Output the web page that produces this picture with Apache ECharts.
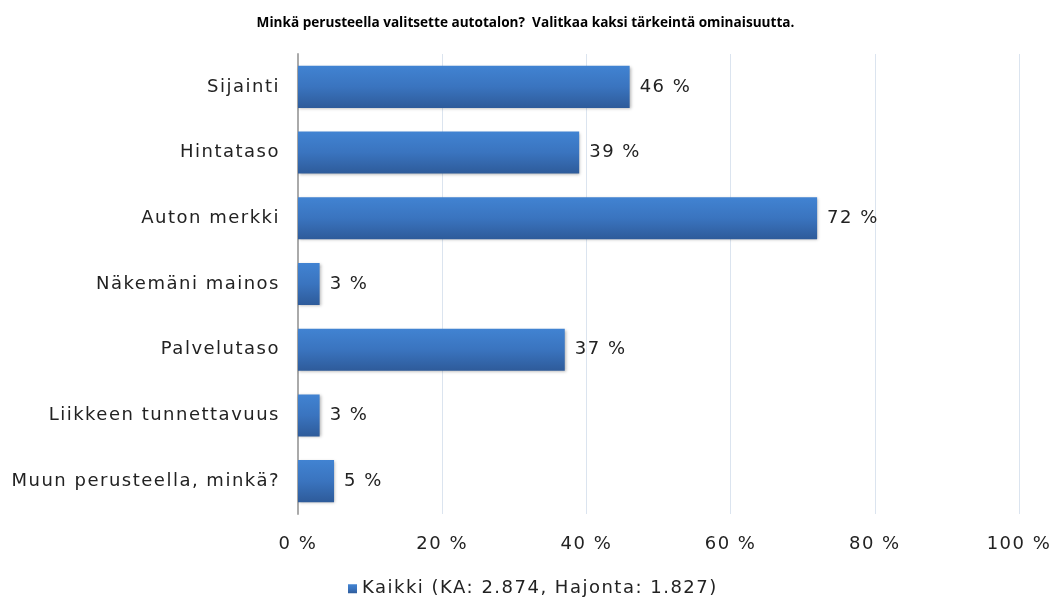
<!DOCTYPE html>
<html>
<head>
<meta charset="utf-8">
<script src="https://cdn.jsdelivr.net/npm/echarts@6/dist/echarts.min.js"></script>
<style>
  html, body { margin: 0; padding: 0; background: #fff; }
  #chart { width: 1051px; height: 598px; }
</style>
</head>
<body>
<div id="chart"></div>
<script>
var categories = ['Sijainti', 'Hintataso', 'Auton merkki', 'Näkemäni mainos', 'Palvelutaso', 'Liikkeen tunnettavuus', 'Muun perusteella, minkä?'];
var values = [46, 39, 72, 3, 37, 3, 5];
var seriesName = 'Kaikki (KA: 2.874, Hajonta: 1.827)';

// the original text is drawn a bit spaced out; canvas can do that through letterSpacing
var fontDesc = Object.getOwnPropertyDescriptor(CanvasRenderingContext2D.prototype, 'font');
Object.defineProperty(CanvasRenderingContext2D.prototype, 'font', {
    get: function () { return fontDesc.get.call(this); },
    set: function (v) {
        fontDesc.set.call(this, v);
        if ('letterSpacing' in this) {
            this.letterSpacing = /DejaVu/.test(v) ? '1.5px' : '0px';
        }
    },
    configurable: true
});

var myChart = echarts.init(document.getElementById('chart'));

var option = {
    backgroundColor: '#fff',
    animation: false,
    title: {
        text: 'Minkä perusteella valitsette autotalon?  Valitkaa kaksi tärkeintä ominaisuutta.',
        left: 'center',
        top: 11,
        textStyle: {
            fontFamily: 'Open Sans',
            fontWeight: 'bold',
            fontSize: 13.6,
            color: '#000'
        }
    },
    legend: {
        top: 574,
        left: 343,
        itemWidth: 9,
        itemHeight: 9,
        itemGap: 4,
        icon: 'rect',
        textStyle: { fontFamily: 'DejaVu Sans', fontSize: 18, color: '#222' },
        data: [seriesName]
    },
    grid: { left: 298, right: 32, top: 54, bottom: 84, outerBoundsMode: 'none', containLabel: false },
    xAxis: {
        type: 'value',
        min: 0,
        max: 100,
        interval: 20,
        axisLine: { show: false },
        axisTick: { show: false },
        axisLabel: {
            formatter: '{value} %',
            margin: 21,
            fontFamily: 'DejaVu Sans',
            fontSize: 18,
            color: '#222'
        },
        splitLine: { lineStyle: { color: '#dbe4ef', width: 1 } }
    },
    yAxis: {
        type: 'category',
        inverse: true,
        data: categories,
        axisLine: { lineStyle: { color: '#aaa', width: 2 } },
        axisTick: { show: false },
        axisLabel: {
            margin: 18,
            fontFamily: 'DejaVu Sans',
            fontSize: 18,
            color: '#222'
        }
    },
    series: [{
        name: seriesName,
        type: 'bar',
        data: values,
        barCategoryGap: '36%',
        itemStyle: {
            color: new echarts.graphic.LinearGradient(0, 0, 0, 1, [
                { offset: 0, color: '#4183d2' },
                { offset: 0.5, color: '#3a74bf' },
                { offset: 1, color: '#2e5b9a' }
            ]),
            shadowColor: 'rgba(0,0,0,0.3)',
            shadowBlur: 3,
            shadowOffsetX: 1,
            shadowOffsetY: 1
        },
        label: {
            show: true,
            position: 'right',
            distance: 10,
            formatter: '{c} %',
            fontFamily: 'DejaVu Sans',
            fontSize: 18,
            color: '#222'
        }
    }]
};

myChart.setOption(option);
</script>
</body>
</html>
